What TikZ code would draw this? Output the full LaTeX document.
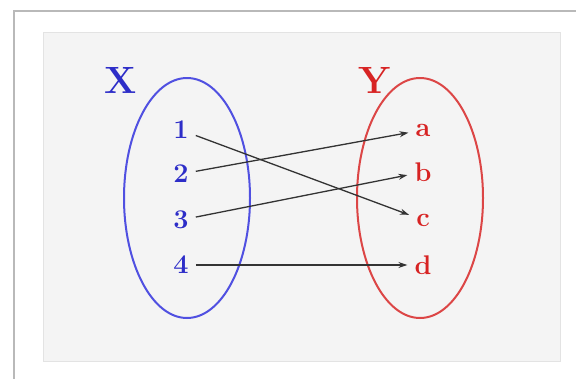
\documentclass[tikz,border=0pt]{standalone}
\usepackage{tikz}
\usetikzlibrary{shapes.geometric,arrows.meta}
\definecolor{setBlue}{RGB}{45,45,200}
\definecolor{setBlueLine}{RGB}{80,80,225}
\definecolor{setRed}{RGB}{215,35,35}
\definecolor{setRedLine}{RGB}{220,70,70}
\begin{document}
\begin{tikzpicture}[
    x=1pt,y=-1pt,
    setOval/.style={ellipse,draw,line width=2pt,minimum width=126pt,minimum height=240pt,inner sep=0pt},
    setName/.style={font=\fontsize{38}{42}\selectfont\bfseries},
    elemNode/.style={font=\fontsize{27}{30}\selectfont\bfseries,inner xsep=7pt,inner ysep=2pt},
    mapArr/.style={-{Stealth[length=9pt,width=6pt]},line width=1.3pt,black!80},
]
\useasboundingbox (0,0) rectangle (576,378);
% frame and panel
\draw[gray!55,line width=2pt] (14,11) rectangle (600,400);
\draw[gray!22,fill=gray!9,line width=1pt] (43,32) rectangle (560,361);
\node[setOval,draw=setBlueLine] (setX) at (187,198) {};
\node[setOval,draw=setRedLine] (setY) at (420,198) {};
\node[setName,text=setBlue] (labX) at (121,80) {X};
\node[setName,text=setRed] (labY) at (375,80) {Y};
\node[elemNode,text=setBlue] (x1) at (181,130) {1};
\node[elemNode,text=setBlue] (x2) at (181,174) {2};
\node[elemNode,text=setBlue] (x3) at (181,220) {3};
\node[elemNode,text=setBlue] (x4) at (181,265) {4};
\node[elemNode,text=setRed] (ya) at (423,130) {a};
\node[elemNode,text=setRed] (yb) at (423,172) {b};
\node[elemNode,text=setRed] (yc) at (423,220) {c};
\node[elemNode,text=setRed] (yd) at (423,265) {d};
\draw[mapArr] (x1) -- (yc);
\draw[mapArr] (x2) -- (ya);
\draw[mapArr] (x3) -- (yb);
\draw[mapArr] (x4) -- (yd);
\end{tikzpicture}
\end{document}
